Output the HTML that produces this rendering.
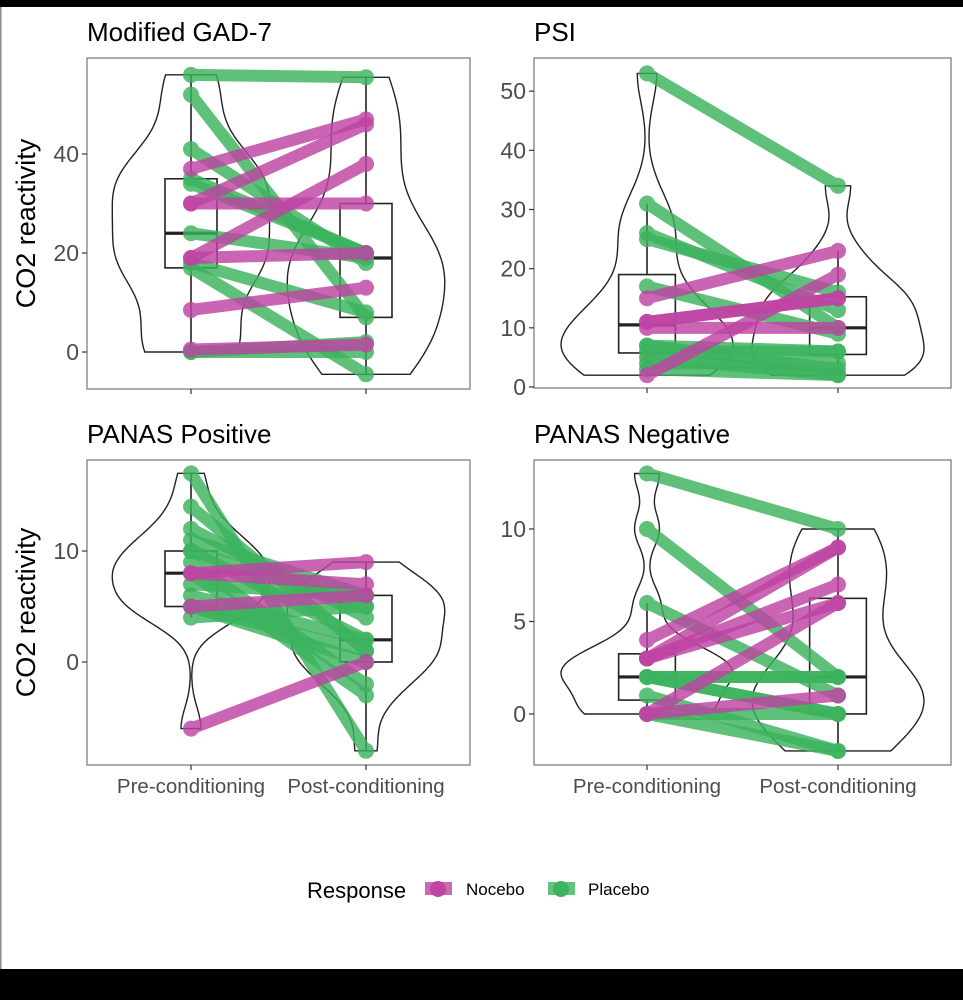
<!DOCTYPE html>
<html><head><meta charset="utf-8"><style>
html,body{margin:0;padding:0;background:#000;}
svg{display:block;font-family:"Liberation Sans",sans-serif;}
</style></head><body>
<svg id="chart" width="963" height="1000" viewBox="0 0 963 1000">
<rect x="0" y="7" width="963" height="962" fill="#fff"/>
<line x1="0.8" y1="7" x2="0.8" y2="969" stroke="#888" stroke-width="1.5"/>
<g id="panels"></g>
<g>
<text x="307" y="898" font-size="22" fill="#000">Response</text>
<g>
<rect x="425" y="882" width="27" height="13" fill="#bf44a4" opacity="0.8"/>
<circle cx="438" cy="889" r="8" fill="#bf44a4"/>
<text x="466" y="895" font-size="17" fill="#000">Nocebo</text></g>
<g>
<rect x="548" y="882" width="27" height="13" fill="#3cb35e" opacity="0.8"/>
<circle cx="561" cy="889" r="8" fill="#3cb35e"/>
<text x="588" y="895" font-size="17" fill="#000">Placebo</text></g>
</g>
</svg>
<script>
// Data: pre/post values per subject, group per subject
const gadPre   = [56,52,41,35,34,24,18,17,0,0, 37,30,30,19,19,8.5,0.5];
const gadPost  = [55.5,7,18,20,20,19,8,-4.5,0,2, 47,46,30,38,20,13,1.5];
const gadGroup = ['P','P','P','P','P','P','P','P','P','P','N','N','N','N','N','N','N'];

const psiPre   = [53,31,26,25,17,7,6,5,4,3,7, 15,11,11,10,2];
const psiPost  = [34,10,13,16,9,6,6,2,4,2,3, 23,15,15,10,19];
const psiGroup = ['P','P','P','P','P','P','P','P','P','P','P','N','N','N','N','N'];

const posPre   = [17,14,12,11,10,10,9,8,7,6,5,4,5, 8,8,5,-6];
const posPost  = [-8,1,4,6,5,2,-2,-3,6,2,0,5,1, 9,7,6,0];
const posGroup = ['P','P','P','P','P','P','P','P','P','P','P','P','P','N','N','N','N'];

const negPre   = [13,10,6,2,2,2,1,0,0,2, 4,3,3,3,0,0];
const negPost  = [10,2,1,0,2,0,-2,0,-2,2, 9,9,7,6,6,1];
const negGroup = ['P','P','P','P','P','P','P','P','P','P','N','N','N','N','N','N'];

const conditionLabels = ['Pre-conditioning','Post-conditioning'];
const gadTicks = [0,20,40];
const psiTicks = [0,10,20,30,40,50];
const posTicks = [0,10];
const negTicks = [0,5,10];

const panels = [
 {name:'gad7', title:'Modified GAD-7', pre:gadPre, post:gadPost, grp:gadGroup, ticks:gadTicks, x0:87,x1:470,y0:58,y1:389, dom:[-7.47,59.4], cx:[191,366], ylab:true, xlab:false},
 {name:'psi', title:'PSI', pre:psiPre, post:psiPost, grp:psiGroup, ticks:psiTicks, x0:534,x1:951,y0:58,y1:388, dom:[-0.17,55.6], cx:[647,838], ylab:false, xlab:false},
 {name:'panas-positive', title:'PANAS Positive', pre:posPre, post:posPost, grp:posGroup, ticks:posTicks, x0:87,x1:470,y0:460,y1:765, dom:[-9.28,18.2], cx:[191,366], ylab:true, xlab:true},
 {name:'panas-negative', title:'PANAS Negative', pre:negPre, post:negPost, grp:negGroup, ticks:negTicks, x0:534,x1:951,y0:460,y1:765, dom:[-2.76,13.73], cx:[647,838], ylab:false, xlab:true},
];
const NS='http://www.w3.org/2000/svg';
const COL={P:'#3cb35e',N:'#bf44a4'};
function mk(tag,attrs,parent){const e=document.createElementNS(NS,tag);for(const k in attrs)e.setAttribute(k,attrs[k]);parent.appendChild(e);return e;}
function quant(s,p){const h=(s.length-1)*p,l=Math.floor(h);return s[l]+(s[Math.min(l+1,s.length-1)]-s[l])*(h-l);}
function sd(a){const m=a.reduce((x,y)=>x+y,0)/a.length;return Math.sqrt(a.reduce((x,y)=>x+(y-m)*(y-m),0)/(a.length-1));}
const root=document.getElementById('panels');
panels.forEach(p=>{
 const g=mk('g',{},root);
 
 
 const Y=v=>p.y1-(v-p.dom[0])/(p.dom[1]-p.dom[0])*(p.y1-p.y0);
 const t=mk('text',{x:p.x0,y:p.y0-17,'font-size':26,fill:'#000'},g);t.textContent=p.title;
 
 
 const fr=mk('rect',{x:p.x0,y:p.y0,width:p.x1-p.x0,height:p.y1-p.y0,fill:'#fff',stroke:'#7f7f7f','stroke-width':1.3},g);
 
 
 p.ticks.forEach(v=>{
  mk('line',{x1:p.x0-5,x2:p.x0,y1:Y(v),y2:Y(v),stroke:'#333','stroke-width':1.2},g);
  const tl=mk('text',{x:p.x0-8,y:Y(v)+8,'font-size':23,fill:'#4d4d4d','text-anchor':'end'},g);tl.textContent=v;
  
  
 });
 p.cx.forEach((x,i)=>{
  mk('line',{x1:x,x2:x,y1:p.y1,y2:p.y1+5,stroke:'#333','stroke-width':1.2},g);
  if(p.xlab){const xl=mk('text',{x:x,y:p.y1+28,'font-size':20.5,fill:'#4d4d4d','text-anchor':'middle'},g);xl.textContent=conditionLabels[i];
   
   }
 });
 if(p.ylab){const yl=mk('text',{x:0,y:0,'font-size':27,fill:'#000','text-anchor':'middle',transform:`translate(35,${(p.y0+p.y1)/2}) rotate(-90)`},g);yl.textContent='CO2 reactivity';
  
  }
 const half=(p.cx[1]-p.cx[0])*0.45;
 [p.pre,p.post].forEach((vals,i)=>{
  const cx=p.cx[i];const s=[...vals].sort((a,b)=>a-b);
  const n=s.length;const iqr=quant(s,0.75)-quant(s,0.25);
  const bw=0.9*Math.min(sd(s),iqr/1.34)*Math.pow(n,-0.2)||1;
  const lo=s[0],hi=s[n-1];const steps=80;const dens=[];
  for(let k=0;k<=steps;k++){const v=lo+(hi-lo)*k/steps;let d=0;s.forEach(x=>{d+=Math.exp(-0.5*((v-x)/bw)**2);});dens.push([v,d]);}
  const mx=Math.max(...dens.map(d=>d[1]));
  let path='';dens.forEach((d,k)=>{path+=(k?'L':'M')+(cx+d[1]/mx*half).toFixed(1)+','+Y(d[0]).toFixed(1);});
  for(let k=dens.length-1;k>=0;k--){const d=dens[k];path+='L'+(cx-d[1]/mx*half).toFixed(1)+','+Y(d[0]).toFixed(1);}
  const vp=mk('path',{d:path+'Z',fill:'none',stroke:'#222','stroke-width':1.4},g);
  
  
  const q1=quant(s,0.25),q2=quant(s,0.5),q3=quant(s,0.75);
  const wl=Math.min(...s.filter(x=>x>=q1-1.5*(q3-q1))),wh=Math.max(...s.filter(x=>x<=q3+1.5*(q3-q1)));
  const bg=mk('g',{},g);
  
  
  const bx=half*0.33;
  mk('line',{x1:cx,x2:cx,y1:Y(wh),y2:Y(q3),stroke:'#222','stroke-width':1.6},bg);
  mk('line',{x1:cx,x2:cx,y1:Y(q1),y2:Y(wl),stroke:'#222','stroke-width':1.6},bg);
  mk('rect',{x:cx-bx,y:Y(q3),width:2*bx,height:Y(q1)-Y(q3),fill:'none',stroke:'#222','stroke-width':1.6},bg);
  mk('line',{x1:cx-bx,x2:cx+bx,y1:Y(q2),y2:Y(q2),stroke:'#222','stroke-width':3.2},bg);
 });
 const order=[...p.pre.keys()].sort((a,b)=>(p.grp[a]==='N')-(p.grp[b]==='N'));
 order.forEach(k=>{
  const sg=mk('g',{opacity:0.82},g);
  
  
  const c=COL[p.grp[k]];
  mk('line',{x1:p.cx[0],y1:Y(p.pre[k]),x2:p.cx[1],y2:Y(p.post[k]),stroke:c,'stroke-width':12},sg);
  mk('circle',{cx:p.cx[0],cy:Y(p.pre[k]),r:8,fill:c},sg);
  mk('circle',{cx:p.cx[1],cy:Y(p.post[k]),r:8,fill:c},sg);
 });
});
</script>
</body></html>
